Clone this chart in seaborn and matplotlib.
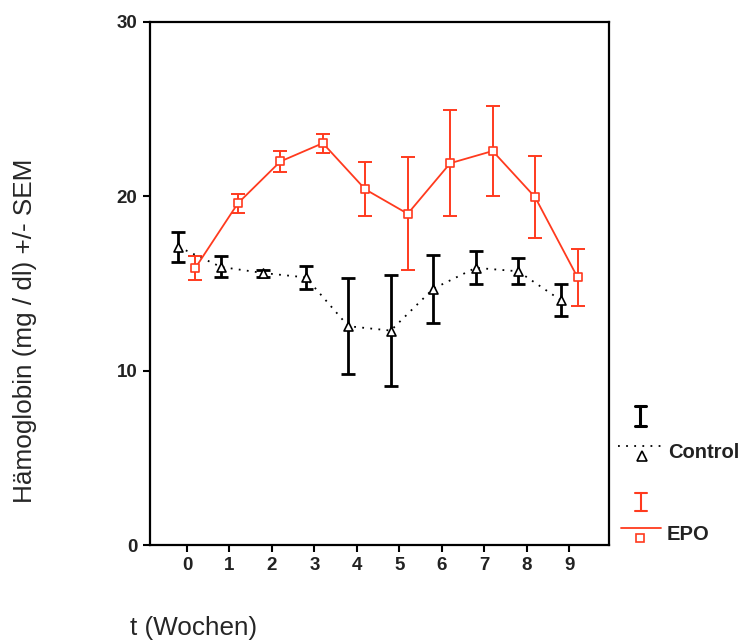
import numpy as np
import pandas as pd
import matplotlib
matplotlib.use("Agg")
import matplotlib.pyplot as plt
from matplotlib.lines import Line2D
import seaborn as sns

# Haemoglobin means +/- SEM per week
weeks = [0, 1, 2, 3, 4, 5, 6, 7, 8, 9]
control_mean = [17.1, 15.95, 15.6, 15.35, 12.55, 12.3, 14.7, 15.9, 15.7, 14.05]
control_sem = [0.85, 0.6, 0.2, 0.65, 2.75, 3.2, 1.95, 0.95, 0.75, 0.9]
epo_mean = [15.9, 19.6, 22.0, 23.05, 20.4, 19.0, 21.9, 22.6, 19.95, 15.35]
epo_sem = [0.7, 0.55, 0.6, 0.55, 1.55, 3.25, 3.05, 2.6, 2.35, 1.65]
groups = ["Control", "EPO"]
yticks = [0, 10, 20, 30]

RED = "#ff3a1e"
W, H = 745, 642

sns.set_style("white")
plt.rcParams["font.family"] = ["Liberation Sans", "DejaVu Sans"]

df = pd.concat([
    pd.DataFrame({"week": weeks, "hb": control_mean, "sem": control_sem, "group": "Control"}),
    pd.DataFrame({"week": weeks, "hb": epo_mean, "sem": epo_sem, "group": "EPO"}),
], ignore_index=True)
# small dodge so the two groups do not sit on top of each other
df["xpos"] = df["week"] + df["group"].map({"Control": -0.2, "EPO": 0.2})
pal = {"Control": "black", "EPO": RED}

fig = plt.figure(figsize=(W / 100, H / 100), dpi=100)
ax = fig.add_axes([150 / W, 1 - 545 / H, (609 - 150) / W, (545 - 22) / H])

sns.lineplot(data=df, x="xpos", y="hb", hue="group", style="group", palette=pal,
             dashes={"Control": (1, 3.5), "EPO": ""},
             linewidth=1.3, legend=False, ax=ax, zorder=3)

ctl = df[df["group"] == "Control"]
epo = df[df["group"] == "EPO"]
ax.errorbar(ctl["xpos"], ctl["hb"], yerr=ctl["sem"], fmt="none",
            ecolor="black", elinewidth=2.0, capsize=5, capthick=2.0, zorder=2)
ax.errorbar(epo["xpos"], epo["hb"], yerr=epo["sem"], fmt="none",
            ecolor=RED, elinewidth=1.4, capsize=5, capthick=1.4, zorder=2)

sns.scatterplot(data=ctl, x="xpos", y="hb", marker="^", s=42, facecolor="white",
                edgecolor="black", linewidth=1.2, legend=False, ax=ax, zorder=4)
sns.scatterplot(data=epo, x="xpos", y="hb", marker="s", s=36, facecolor="white",
                edgecolor=RED, linewidth=1.2, legend=False, ax=ax, zorder=4)

ax.set_xlim(-0.87, 9.94)
ax.set_ylim(0, 30)
ax.set_xticks(weeks)
ax.set_yticks(yticks)
ax.set_xlabel("")
ax.set_ylabel("")
for s in ax.spines.values():
    s.set_visible(True)
    s.set_color("black")
    s.set_linewidth(1.6)
ax.tick_params(axis="both", direction="out", length=5, width=1.5, color="black",
               labelsize=13.5, pad=4, bottom=True, left=True)
for lab in ax.get_xticklabels() + ax.get_yticklabels():
    lab.set_fontweight("bold")
    lab.set_color("#222222")

fig.text(25 / W, 1 - 331 / H, "Hämoglobin (mg / dl) +/- SEM", rotation=90,
         ha="center", va="center", fontsize=18.8)
fig.text(130 / W, 1 - 628 / H, "t (Wochen)", ha="left", va="center", fontsize=18.8)


def px(x, y):
    return x / W, 1 - y / H


def err_glyph(cx, cy, half_h, half_w, color, lw):
    x0, y0 = px(cx, cy - half_h)
    x1, y1 = px(cx, cy + half_h)
    fig.add_artist(Line2D([x0, x1], [y0, y1], color=color, lw=lw, transform=fig.transFigure))
    for yy in (cy - half_h, cy + half_h):
        a, b = px(cx - half_w, yy)
        c, d = px(cx + half_w, yy)
        fig.add_artist(Line2D([a, c], [b, d], color=color, lw=lw, transform=fig.transFigure))


# hand-built legend to the right of the axes
err_glyph(640, 416, 10, 5.5, "black", 2.2)
err_glyph(641, 502, 9, 6, RED, 1.5)

a, b = px(618, 446)
c, d = px(666, 446)
fig.add_artist(Line2D([a, c], [b, d], color="black", lw=1.3, dashes=(1, 3.5),
                      transform=fig.transFigure))
fig.add_artist(Line2D([px(642, 0)[0]], [px(0, 456)[1]], marker="^", ms=6.5, mfc="white",
                      mec="black", mew=1.2, transform=fig.transFigure))
fig.text(668 / W, 1 - 452 / H, "Control", ha="left", va="center", fontsize=14.5,
         fontweight="bold", color="#222222")

a, b = px(621, 528)
c, d = px(661, 528)
fig.add_artist(Line2D([a, c], [b, d], color=RED, lw=1.3, transform=fig.transFigure))
fig.add_artist(Line2D([px(640, 0)[0]], [px(0, 538)[1]], marker="s", ms=6, mfc="white",
                      mec=RED, mew=1.2, transform=fig.transFigure))
fig.text(667 / W, 1 - 535 / H, "EPO", ha="left", va="center", fontsize=14.5,
         fontweight="bold", color="#222222")

fig.savefig("out.png", dpi=100)
